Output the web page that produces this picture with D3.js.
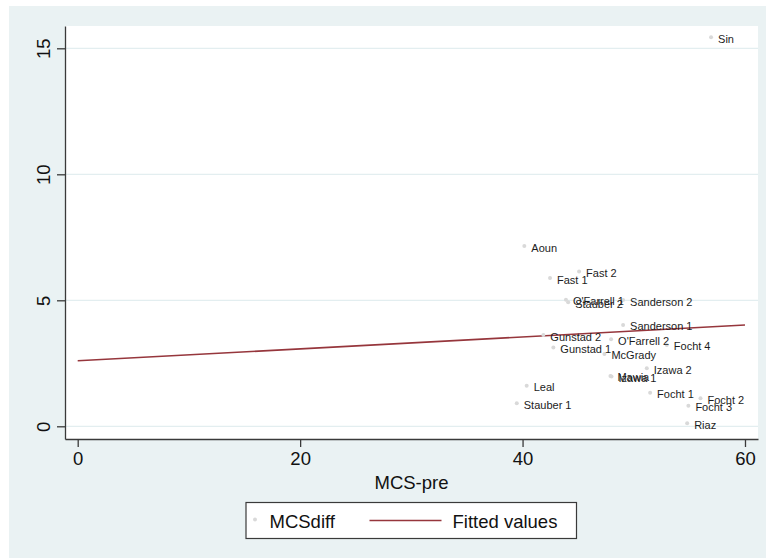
<!DOCTYPE html>
<html>
<head>
<meta charset="utf-8">
<script src="https://cdn.jsdelivr.net/npm/d3@7/dist/d3.min.js"></script>
<style>
  html, body { margin: 0; padding: 0; background: #ffffff; }
  svg { display: block; }
  text { font-family: "Liberation Sans", Arial, Helvetica, sans-serif; }
</style>
</head>
<body>
<svg id="chart" width="766" height="558"></svg>
<script>
// Study labels and their coordinates (MCS before treatment vs. MCS change)
const studies = ["Sin", "Aoun", "Fast 1", "Fast 2", "O'Farrell 1", "Stauber 2",
  "Sanderson 2", "Sanderson 1", "Gunstad 2", "Gunstad 1", "O'Farrell 2", "Focht 4",
  "McGrady", "Izawa 2", "Mawia", "Izawa 1", "Leal", "Stauber 1", "Focht 1",
  "Focht 2", "Focht 3", "Riaz"];
const mcsPre = [56.95, 40.16, 42.47, 45.08, 43.9, 44.1,
  49.04, 49.04, 41.87, 42.77, 47.96, 52.97,
  47.36, 51.17, 47.9, 48.0, 40.37, 39.48, 51.47,
  56.0, 54.91, 54.8];
const mcsDiff = [15.44, 7.15, 5.88, 6.14, 5.02, 4.92,
  5.01, 4.02, 3.62, 3.13, 3.45, 3.23,
  2.87, 2.30, 2.0, 1.98, 1.61, 0.91, 1.33,
  1.11, 0.82, 0.12];

// Linear fit drawn across the x range 0..60
const fitX = [0, 60];
const fitY = [2.60, 4.02];

const xTicks = [0, 20, 40, 60];
const yTicks = [0, 5, 10, 15];
const legendLabels = ["MCSdiff", "Fitted values"];
const xTitle = "MCS-pre";

const svg = d3.select("#chart");
const W = 766, H = 558;
const plot = { left: 65, right: 758, top: 26, bottom: 439 };

// outer graph region
svg.append("rect").attr("x", 9).attr("y", 6).attr("width", W - 9).attr("height", H - 6)
  .attr("fill", "#eaf2f3");
// plot region
svg.append("rect").attr("x", plot.left).attr("y", plot.top)
  .attr("width", plot.right - plot.left).attr("height", plot.bottom - plot.top)
  .attr("fill", "#ffffff");

const x = d3.scaleLinear().domain([-1.142, 61.17]).range([plot.left, plot.right]);
const y = d3.scaleLinear().domain([-0.504, 15.885]).range([plot.bottom, plot.top]);

// horizontal gridlines
svg.append("g").selectAll("line").data(yTicks).join("line")
  .attr("x1", plot.left).attr("x2", plot.right)
  .attr("y1", d => y(d)).attr("y2", d => y(d))
  .attr("stroke", "#e3eef0").attr("stroke-width", 1.2);

// fitted line
const fitData = fitX.map((v, i) => [v, fitY[i]]);
svg.append("path").datum(fitData)
  .attr("d", d3.line().x(d => x(d[0])).y(d => y(d[1])))
  .attr("fill", "none").attr("stroke", "#96363c").attr("stroke-width", 1.6);

// scatter points with labels
const pts = studies.map((s, i) => ({ s, x: mcsPre[i], y: mcsDiff[i] }));
const gp = svg.append("g");
gp.selectAll("circle").data(pts).join("circle")
  .attr("cx", d => x(d.x)).attr("cy", d => y(d.y)).attr("r", 2)
  .attr("fill", "#d9d9d9");
gp.selectAll("text").data(pts).join("text")
  .attr("x", d => x(d.x) + 7).attr("y", d => y(d.y) + 5.5)
  .attr("font-size", 11).attr("fill", "#1c1c1c")
  .text(d => d.s);

// axes
const axisColor = "#3a3a3a";
const gx = svg.append("g").attr("transform", `translate(0,${plot.bottom})`)
  .call(d3.axisBottom(x).tickValues(xTicks).tickSize(8).tickSizeOuter(0).tickPadding(5)
    .tickFormat(d3.format("d")));
gx.select(".domain").attr("stroke", axisColor).attr("stroke-width", 1.3);
gx.selectAll(".tick line").attr("stroke", axisColor).attr("stroke-width", 1.3);
gx.selectAll(".tick text").attr("font-size", 18.5).attr("fill", "#111")
  .style("font-family", "'Liberation Sans', Arial, sans-serif");

const gy = svg.append("g").attr("transform", `translate(${plot.left},0)`)
  .call(d3.axisLeft(y).tickValues(yTicks).tickSize(8).tickSizeOuter(0)
    .tickFormat(d3.format("d")));
gy.select(".domain").attr("stroke", axisColor).attr("stroke-width", 1.3);
gy.selectAll(".tick line").attr("stroke", axisColor).attr("stroke-width", 1.3);
gy.selectAll(".tick text")
  .attr("transform", "rotate(-90)")
  .attr("x", 0).attr("y", -15).attr("dy", null)
  .attr("text-anchor", "middle")
  .attr("font-size", 18.5).attr("fill", "#111")
  .style("font-family", "'Liberation Sans', Arial, sans-serif");

// x axis title
svg.append("text").attr("x", (plot.left + plot.right) / 2).attr("y", 489)
  .attr("text-anchor", "middle").attr("font-size", 18.5).attr("fill", "#111")
  .text(xTitle);

// legend
const lg = svg.append("g");
lg.append("rect").attr("x", 246).attr("y", 502.5).attr("width", 330.5).attr("height", 36)
  .attr("fill", "#ffffff").attr("stroke", "#3a3a3a").attr("stroke-width", 1.2);
lg.append("circle").attr("cx", 255).attr("cy", 519.5).attr("r", 2).attr("fill", "#d9d9d9");
lg.append("text").attr("x", 269.5).attr("y", 528).attr("font-size", 18.5).attr("fill", "#111")
  .text(legendLabels[0]);
lg.append("line").attr("x1", 369.5).attr("x2", 441.5).attr("y1", 520.5).attr("y2", 520.5)
  .attr("stroke", "#96363c").attr("stroke-width", 1.6);
lg.append("text").attr("x", 452.5).attr("y", 528).attr("font-size", 18.5).attr("fill", "#111")
  .text(legendLabels[1]);
</script>
</body>
</html>
